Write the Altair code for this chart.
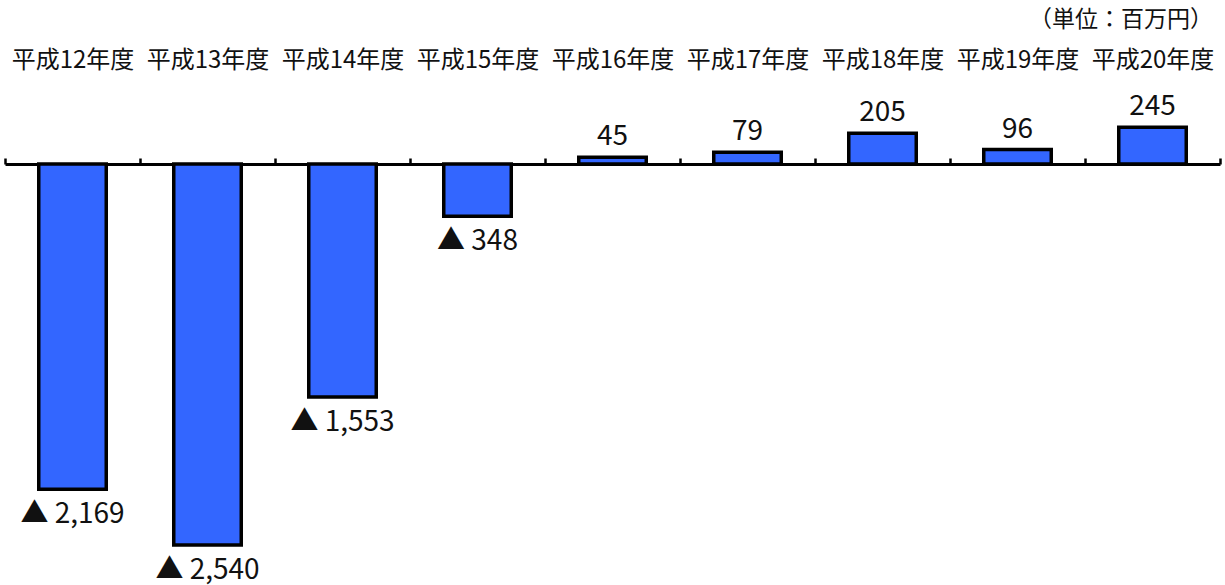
import altair as alt
import pandas as pd

# 経常収支の推移（単位：百万円）
years = ["平成12年度", "平成13年度", "平成14年度", "平成15年度", "平成16年度",
         "平成17年度", "平成18年度", "平成19年度", "平成20年度"]
values = [-2169, -2540, -1553, -348, 45, 79, 205, 96, 245]
unit_text = "（単位：百万円）"


def fmt(v):
    # マイナスは「▲」で表記
    return f"▲ {abs(v):,}" if v < 0 else f"{v:,}"


df = pd.DataFrame({
    "year": years,
    "value": values,
    "label": [fmt(v) for v in values],
})

FONT = "Noto Sans CJK JP"
BAR_COLOR = "#3366FF"

x = alt.X(
    "year:N",
    sort=years,
    scale=alt.Scale(paddingInner=0, paddingOuter=0),
    axis=alt.Axis(
        orient="top",
        offset=-60,
        title=None,
        domainColor="#000000",
        domainWidth=3,
        ticks=True,
        tickColor="#000000",
        tickWidth=2.5,
        tickSize=6,
        tickBand="extent",
        labelAngle=0,
        labelFont=FONT,
        labelFontSize=24,
        labelFontWeight="normal",
        labelColor="#111111",
        labelPadding=86,
        labelOverlap=False,
        labelBound=False,
        labelFlush=False,
        grid=False,
    ),
)
y = alt.Y("value:Q", scale=alt.Scale(domain=[-2800, 400], nice=False, zero=True), axis=None)

bars = alt.Chart(df).mark_bar(
    color=BAR_COLOR, stroke="#000000", strokeWidth=3.5,
    width=alt.RelativeBandSize(0.5),
).encode(x=x, y=y)

pos_labels = alt.Chart(df).transform_filter("datum.value >= 0").mark_text(
    font=FONT, fontSize=28, fontWeight="normal", color="#111111",
    baseline="alphabetic", dy=-12
).encode(x=alt.X("year:N", sort=years), y=y, text="label:N")

neg_labels = alt.Chart(df).transform_filter("datum.value < 0").mark_text(
    font=FONT, fontSize=28, fontWeight="normal", color="#111111",
    baseline="alphabetic", dy=34
).encode(x=alt.X("year:N", sort=years), y=y, text="label:N")

unit = alt.Chart(pd.DataFrame({"t": [unit_text]})).mark_text(
    font=FONT, fontSize=23, fontWeight="normal",
    color="#111111", align="right", baseline="middle"
).encode(text="t:N", x=alt.value(1208), y=alt.value(-84))

chart = alt.layer(bars, pos_labels, neg_labels, unit).properties(
    width=1215,
    height=480,
    padding={"left": 5, "top": 104, "right": 5, "bottom": 1},
    autosize=alt.AutoSizeParams(type="none"),
).configure_view(stroke=None)

chart.save("out.html", embed_options={"renderer": "svg", "actions": False})
